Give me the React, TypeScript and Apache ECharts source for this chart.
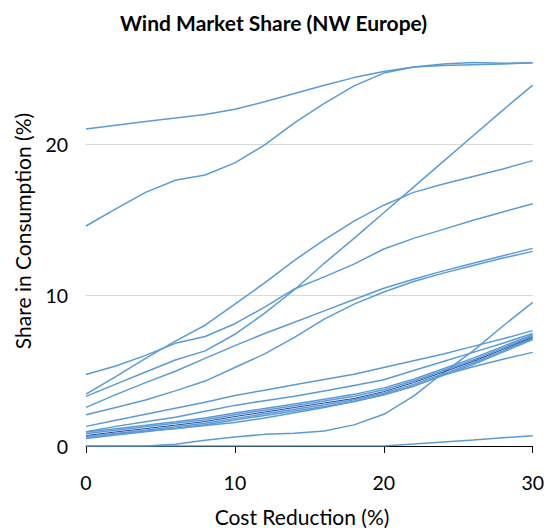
import React, { useEffect, useRef } from "react";
import * as echarts from "echarts";

const costReduction = [0, 2, 4, 6, 8, 10, 12, 14, 16, 18, 20, 22, 24, 26, 28, 30];

const shareTopA = [21.0, 21.25, 21.5, 21.72, 21.95, 22.3, 22.8, 23.35, 23.9, 24.4, 24.8, 25.1, 25.2, 25.25, 25.3, 25.38];
const shareTopB = [14.57, 15.7, 16.8, 17.6, 17.95, 18.75, 19.95, 21.4, 22.7, 23.85, 24.7, 25.1, 25.3, 25.4, 25.35, 25.38];
const shareSteep = [3.29, 4.1, 4.9, 5.7, 6.3, 7.4, 8.8, 10.35, 12.1, 13.75, 15.45, 17.15, 18.85, 20.55, 22.25, 23.9];
const shareS = [3.44, 4.6, 5.8, 6.95, 8.0, 9.4, 10.8, 12.3, 13.65, 14.9, 15.95, 16.8, 17.35, 17.85, 18.35, 18.9];
const shareA = [4.74, 5.3, 6.0, 6.8, 7.25, 8.1, 9.2, 10.4, 11.2, 12.05, 13.05, 13.75, 14.35, 14.95, 15.5, 16.05];
const shareD = [2.56, 3.4, 4.2, 4.95, 5.8, 6.65, 7.45, 8.2, 8.95, 9.7, 10.45, 11.05, 11.6, 12.1, 12.6, 13.09];
const shareE = [2.07, 2.55, 3.05, 3.65, 4.3, 5.2, 6.1, 7.2, 8.4, 9.4, 10.2, 10.9, 11.45, 11.95, 12.45, 12.89];
const shareF = [1.3, 1.7, 2.1, 2.5, 2.9, 3.35, 3.7, 4.05, 4.4, 4.75, 5.2, 5.65, 6.1, 6.6, 7.1, 7.64];
const shareP = [0.95, 1.3, 1.6, 1.9, 2.3, 2.69, 3.0, 3.3, 3.65, 4.0, 4.39, 5.0, 5.6, 6.2, 6.8, 7.45];
const shareQ = [0.6, 0.8, 1.0, 1.15, 1.35, 1.56, 1.85, 2.2, 2.55, 2.95, 3.4, 3.95, 4.7, 5.25, 5.75, 6.2];
const shareB1 = [0.92, 1.15, 1.37, 1.6, 1.85, 2.18, 2.48, 2.78, 3.1, 3.42, 3.85, 4.42, 5.12, 5.82, 6.6, 7.35];
const shareB2 = [0.82, 1.05, 1.27, 1.5, 1.74, 2.07, 2.37, 2.67, 2.98, 3.3, 3.73, 4.3, 5.0, 5.7, 6.5, 7.28];
const shareB3 = [0.6, 0.83, 1.05, 1.27, 1.51, 1.83, 2.13, 2.43, 2.73, 3.06, 3.5, 4.08, 4.78, 5.5, 6.3, 7.12];
const shareB4 = [0.5, 0.73, 0.95, 1.17, 1.4, 1.72, 2.02, 2.32, 2.62, 2.95, 3.4, 3.98, 4.68, 5.4, 6.22, 7.05];
const shareLate = [0, 0, 0, 0.12, 0.38, 0.6, 0.77, 0.84, 1.0, 1.4, 2.1, 3.3, 4.85, 6.3, 7.95, 9.51];
const shareFlat = [0, 0, 0, 0, 0, 0, 0, 0, 0, 0, 0, 0.13, 0.27, 0.4, 0.54, 0.68];
const shareMedian = [0.7, 0.93, 1.15, 1.38, 1.62, 1.95, 2.25, 2.55, 2.85, 3.15, 3.6, 4.2, 4.9, 5.6, 6.4, 7.2];

const lightSeries = [
  shareTopA, shareTopB, shareSteep, shareS, shareA, shareD, shareE, shareF,
  shareP, shareQ, shareB1, shareB2, shareB3, shareB4, shareLate, shareFlat,
];

const yTicks = [0, 10, 20];

const FONT = "Lato, 'Open Sans', sans-serif";

export default function App() {
  const ref = useRef<HTMLDivElement>(null);
  useEffect(() => {
    const chart = echarts.init(ref.current!, null, { renderer: "svg" });
    const toPairs = (arr: number[]) => arr.map((v, i) => [costReduction[i], v]);
    const series: any[] = lightSeries.map((arr) => ({
      type: "line",
      data: toPairs(arr),
      showSymbol: false,
      lineStyle: { color: "#5B9BD5", width: 1.5 },
      itemStyle: { color: "#5B9BD5" },
      z: 2,
    }));
    series.push({
      type: "line",
      data: toPairs(shareMedian),
      showSymbol: false,
      lineStyle: { color: "#23449A", width: 1 },
      itemStyle: { color: "#23449A" },
      z: 3,
    });
    chart.setOption({
      animation: false,
      title: {
        text: "Wind Market Share (NW Europe)",
        left: "center",
        top: 7,
        textStyle: { fontFamily: FONT, fontSize: 21, fontWeight: "bold", color: "#000" },
      },
      grid: { left: 86, right: 12, top: 61, bottom: 82 },
      xAxis: {
        type: "value",
        min: 0,
        max: 30,
        interval: 10,
        axisLine: { lineStyle: { color: "#000", width: 1 } },
        axisTick: { show: true, length: 7, lineStyle: { color: "#000" } },
        axisLabel: { fontFamily: FONT, fontSize: 19.5, color: "#000", margin: 26 },
        splitLine: { show: false },
      },
      yAxis: {
        type: "value",
        min: 0,
        max: 25.5,
        interval: 10,
        axisLine: { show: false },
        axisTick: { show: false },
        axisLabel: {
          fontFamily: FONT,
          fontSize: 19.5,
          color: "#000",
          margin: 18,
          showMaxLabel: false,
          formatter: (v: number) => (yTicks.includes(v) ? String(v) : ""),
        },
        splitLine: { show: true, showMinLine: false, showMaxLine: false, lineStyle: { color: "#D9D9D9", width: 1 } },
      },
      graphic: [
        {
          type: "text",
          x: 302,
          y: 516,
          style: { text: "Cost Reduction (%)", font: `21px ${FONT}`, fill: "#000", textAlign: "center", textVerticalAlign: "middle" },
        },
        {
          type: "text",
          x: 22,
          y: 231,
          rotation: Math.PI / 2,
          style: { text: "Share in Consumption (%)", font: `21px ${FONT}`, fill: "#000", textAlign: "center", textVerticalAlign: "middle" },
        },
      ],
      series,
    });
    return () => chart.dispose();
  }, []);
  return <div ref={ref} style={{ position: "absolute", left: 0, top: 0, width: 547, height: 528 }} />;
}
